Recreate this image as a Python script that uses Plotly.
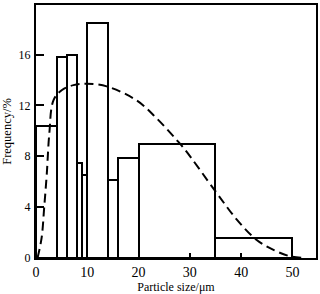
import plotly.graph_objects as go

bin_left = [0, 4, 6, 8, 9, 10, 14, 16, 20, 35]
bin_right = [4, 6, 8, 9, 10, 14, 16, 20, 35, 50]
freq = [10.4, 15.8, 16.0, 7.5, 6.5, 18.5, 6.1, 7.9, 9.0, 1.6]

curve_x = [0.3, 1.1, 1.6, 2.1, 2.6, 3.4, 5.0, 7.3, 9.9, 13.8, 19.6, 23.5, 27.4, 29.1,
           34.9, 39.2, 43.1, 46.5, 49.6, 52.1]
curve_y = [0, 1.6, 4.0, 6.6, 9.8, 12.4, 13.2, 13.6, 13.7, 13.5, 12.4, 11.0, 9.3, 8.5,
           5.3, 3.0, 1.4, 0.6, 0.13, 0]

x_ticks = [0, 10, 20, 30, 40, 50]
y_ticks = [0, 4, 8, 12, 16]

centers = [(a + b) / 2 for a, b in zip(bin_left, bin_right)]
widths = [b - a for a, b in zip(bin_left, bin_right)]

fig = go.Figure()
fig.add_trace(go.Bar(x=centers, y=freq, width=widths,
                     marker=dict(color="white", line=dict(color="black", width=2)),
                     showlegend=False))
fig.add_trace(go.Scatter(x=curve_x, y=curve_y, mode="lines",
                         line=dict(color="black", width=2, dash="9px,5px", shape="spline"),
                         showlegend=False))

serif = "Liberation Serif, Times New Roman, serif"
font = dict(family=serif, size=12, color="black")
fig.update_layout(
    width=320, height=294,
    margin=dict(l=36, r=4, t=5, b=36),
    paper_bgcolor="white", plot_bgcolor="white",
    font=font,
    bargap=0,
)
fig.update_xaxes(range=[0, 54.6], tickvals=x_ticks, ticks="inside", ticklen=5,
                 tickwidth=2, tickcolor="black", automargin=False,
                 tickfont=dict(family=serif, size=14, color="black"),
                 showline=True, linecolor="black", linewidth=2, mirror=True,
                 showgrid=False, zeroline=False,
                 title=dict(text="Particle size/μm", standoff=0,
                            font=dict(family=serif, size=12, color="black")))
fig.update_yaxes(range=[0, 19.9], tickvals=y_ticks, ticks="inside", ticklen=8,
                 tickwidth=2, tickcolor="black", automargin=False,
                 ticklabelstandoff=1,
                 tickfont=dict(family=serif, size=12, color="black"),
                 showline=True, linecolor="black", linewidth=2, mirror=True,
                 showgrid=False, zeroline=False,
                 title=dict(text="Frequency/%", standoff=6,
                            font=dict(family=serif, size=12.5, color="black")))

fig.write_html("out.html", config={"displayModeBar": False},
               post_script="document.body.style.margin='0';")
